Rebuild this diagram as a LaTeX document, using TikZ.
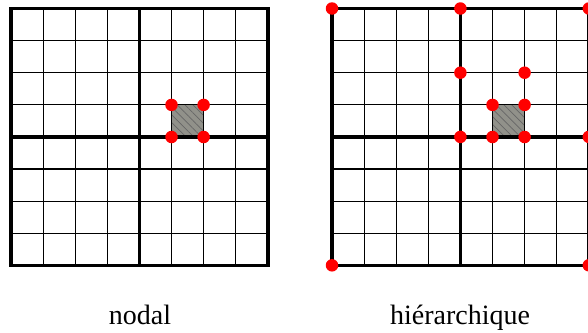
\documentclass[tikz,border=0pt]{standalone}
\usepackage{fontspec}
\setmainfont{Liberation Serif}
\usetikzlibrary{patterns.meta}
\definecolor{dotred}{RGB}{255,0,0}
\definecolor{cellgray}{RGB}{145,145,138}
\tikzset{
  thin grid/.style={line width=1.1pt, black},
  thick grid/.style={line width=3.6pt, black, line cap=rect},
  hatched/.style={fill=cellgray, postaction={pattern={Lines[angle=-45, distance=5.5pt, line width=0.7pt]}, pattern color=black!60}},
  reddot/.style={circle, fill=dotred, inner sep=0pt, minimum size=12.5pt},
  caption/.style={font=\fontsize{28}{32}\selectfont, anchor=base}
}
\begin{document}
\begin{tikzpicture}[x=1pt,y=-1pt]
\useasboundingbox (0,0) rectangle (588,332);
% left grid
\begin{scope}[shift={(11,8.5)}]
  \fill[hatched] (160.5,96.4) rectangle (192.6,128.5);
  \foreach \i in {1,2,3,5,6,7} {
    \draw[thin grid] (\i*32.1,0) -- (\i*32.1,256.8);
    \draw[thin grid] (0,\i*32.1) -- (256.8,\i*32.1);
  }
  \draw[thick grid] (0,0) rectangle (256.8,256.8);
  \draw[thick grid] (128.4,0) -- (128.4,256.8);
  \draw[thick grid] (0,128.4) -- (256.8,128.4);
  \node[reddot] (l1) at (160.5,96.4) {};
  \node[reddot] (l2) at (192.6,96.4) {};
  \node[reddot] (l3) at (160.5,128.5) {};
  \node[reddot] (l4) at (192.6,128.5) {};
\end{scope}
% right grid
\begin{scope}[shift={(332,8.5)}]
  \fill[hatched] (160.5,96.4) rectangle (192.6,128.5);
  \foreach \i in {1,2,3,5,6,7} {
    \draw[thin grid] (\i*32.1,0) -- (\i*32.1,256.8);
    \draw[thin grid] (0,\i*32.1) -- (256.8,\i*32.1);
  }
  \draw[thick grid] (0,0) rectangle (256.8,256.8);
  \draw[thick grid] (128.4,0) -- (128.4,256.8);
  \draw[thick grid] (0,128.4) -- (256.8,128.4);
  \node[reddot] (r1) at (0,0) {};
  \node[reddot] (r2) at (128.4,0) {};
  \node[reddot] (r3) at (256.8,0) {};
  \node[reddot] (r4) at (0,256.8) {};
  \node[reddot] (r5) at (256.8,256.8) {};
  \node[reddot] (r6) at (256.8,128.4) {};
  \node[reddot] (r7) at (128.4,128.4) {};
  \node[reddot] (r8) at (128.4,64.2) {};
  \node[reddot] (r9) at (192.6,64.2) {};
  \node[reddot] (r10) at (160.5,96.4) {};
  \node[reddot] (r11) at (192.6,96.4) {};
  \node[reddot] (r12) at (160.5,128.5) {};
  \node[reddot] (r13) at (192.6,128.5) {};
\end{scope}
\node[caption] (nodal) at (140,324) {nodal};
\node[caption] (hier) at (460,324) {hiérarchique};
\end{tikzpicture}
\end{document}
